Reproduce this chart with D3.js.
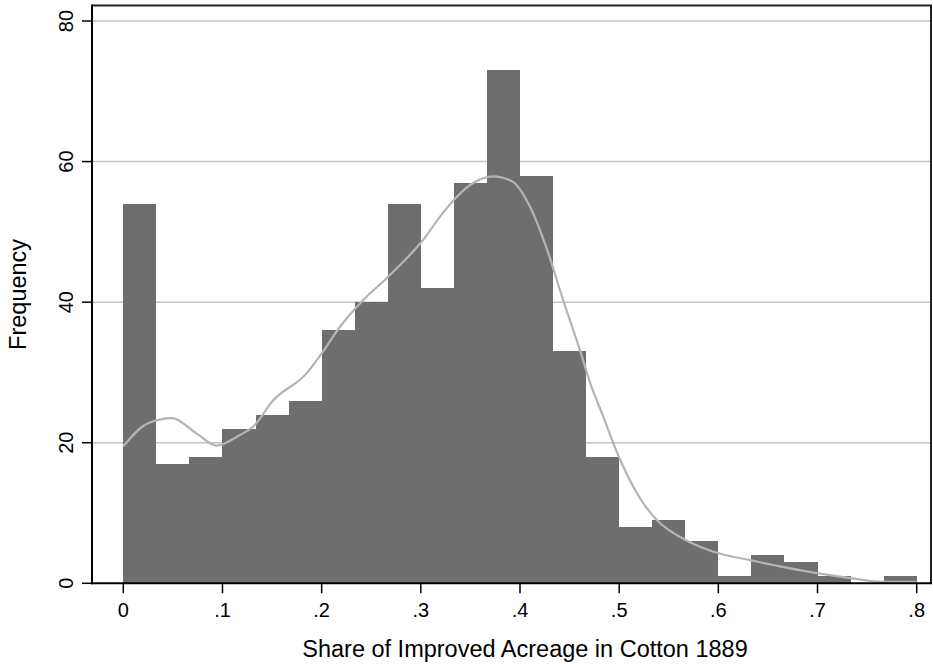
<!DOCTYPE html>
<html>
<head>
<meta charset="utf-8">
<script src="https://cdn.jsdelivr.net/npm/d3@7"></script>
<style>
  html, body { margin: 0; padding: 0; background: #fff; }
  svg { display: block; font-family: "Liberation Sans", Arial, Helvetica, sans-serif; }
</style>
</head>
<body>
<svg id="chart"></svg>
<script>
// Histogram: share of improved acreage in cotton, 1889, with density overlay

const width = 933, height = 664;

// bin edges (width 1/30)
const binEdges = [0, 0.0333, 0.0667, 0.1, 0.1333, 0.1667, 0.2, 0.2333, 0.2667, 0.3,
  0.3333, 0.3667, 0.4, 0.4333, 0.4667, 0.5, 0.5333, 0.5667, 0.6, 0.6333,
  0.6667, 0.7, 0.7333, 0.7667, 0.8];
const frequency = [54, 17, 18, 22, 24, 26, 36, 40, 54, 42, 57, 73,
  58, 33, 18, 8, 9, 6, 1, 4, 3, 1, 0, 1];

// density curve (scaled to frequency)
const densX = [0, 0.024, 0.049, 0.074, 0.094, 0.1176, 0.131, 0.151, 0.185, 0.2,
  0.2185, 0.242, 0.2655, 0.282, 0.302, 0.319, 0.333, 0.35, 0.373, 0.393,
  0.41, 0.427, 0.4435, 0.4604, 0.471, 0.484, 0.497, 0.521, 0.538, 0.568,
  0.602, 0.632, 0.666, 0.701, 0.735, 0.765, 0.8];
const densY = [19.5, 22.7, 23.5, 21.3, 19.6, 21.1, 22.3, 26.0, 29.9, 32.7,
  36.5, 40.3, 43.4, 45.7, 48.8, 52.1, 54.5, 56.7, 57.9, 57.1,
  53.6, 47.6, 40.3, 33.2, 28.4, 23.7, 18.9, 12.1, 9.0, 6.1,
  4.2, 3.3, 2.3, 1.4, 0.7, 0.2, 0.2];

const xTicks = [0, 0.1, 0.2, 0.3, 0.4, 0.5, 0.6, 0.7, 0.8];
const xTickLabels = ["0", ".1", ".2", ".3", ".4", ".5", ".6", ".7", ".8"];
const yTicks = [0, 20, 40, 60, 80];

const plot = { left: 92, right: 931, top: 5.5, bottom: 583.3 };

const svg = d3.select("#chart")
  .attr("width", width)
  .attr("height", height)
  .attr("viewBox", `0 0 ${width} ${height}`);

const x = d3.scaleLinear().domain([0, 0.8]).range([123.3, 916.7]);
const y = d3.scaleLinear().domain([0, 80]).range([plot.bottom, 21]);

// grid lines
svg.append("g")
  .selectAll("line")
  .data(yTicks.filter(d => d > 0))
  .join("line")
  .attr("x1", plot.left)
  .attr("x2", plot.right)
  .attr("y1", d => y(d))
  .attr("y2", d => y(d))
  .attr("stroke", "#c4c4c4")
  .attr("stroke-width", 1.5);

// bars
svg.append("g")
  .selectAll("rect")
  .data(frequency)
  .join("rect")
  .attr("x", (d, i) => x(binEdges[i]))
  .attr("width", (d, i) => x(binEdges[i + 1]) - x(binEdges[i]))
  .attr("y", d => y(d))
  .attr("height", d => y(0) - y(d))
  .attr("fill", "#6e6e6e")
  .attr("shape-rendering", "crispEdges");

// density line
const line = d3.line()
  .x((d, i) => x(densX[i]))
  .y(d => y(d))
  .curve(d3.curveMonotoneX);

svg.append("path")
  .datum(densY)
  .attr("d", line)
  .attr("fill", "none")
  .attr("stroke", "#b4b4b4")
  .attr("stroke-width", 2.2);

// frame (top and right)
svg.append("path")
  .attr("d", `M${plot.left},${plot.top}H${plot.right}V${plot.bottom}`)
  .attr("fill", "none")
  .attr("stroke", "#222")
  .attr("stroke-width", 2);

// x axis
const xAxis = svg.append("g")
  .attr("transform", `translate(0,${plot.bottom})`);
xAxis.append("line")
  .attr("x1", plot.left - 1)
  .attr("x2", plot.right + 1)
  .attr("stroke", "#000")
  .attr("stroke-width", 2);
const xt = xAxis.selectAll("g.tick")
  .data(xTicks)
  .join("g")
  .attr("class", "tick")
  .attr("transform", d => `translate(${x(d)},0)`);
xt.append("line")
  .attr("y2", 10)
  .attr("stroke", "#000")
  .attr("stroke-width", 1.5);
xt.append("text")
  .attr("y", 33.5)
  .attr("text-anchor", "middle")
  .attr("font-size", 20)
  .attr("fill", "#000")
  .text((d, i) => xTickLabels[i]);

// y axis
const yAxis = svg.append("g")
  .attr("transform", `translate(${plot.left},0)`);
yAxis.append("line")
  .attr("y1", plot.top - 1)
  .attr("y2", plot.bottom + 1)
  .attr("stroke", "#000")
  .attr("stroke-width", 2);
const yt = yAxis.selectAll("g.tick")
  .data(yTicks)
  .join("g")
  .attr("class", "tick")
  .attr("transform", d => `translate(0,${y(d)})`);
yt.append("line")
  .attr("x2", -10)
  .attr("stroke", "#000")
  .attr("stroke-width", 1.5);
yt.append("text")
  .attr("transform", "translate(-19,0) rotate(-90)")
  .attr("text-anchor", "middle")
  .attr("font-size", 20)
  .attr("fill", "#000")
  .text(d => d);

// axis titles
svg.append("text")
  .attr("x", 525)
  .attr("y", 656.5)
  .attr("text-anchor", "middle")
  .attr("font-size", 23.5)
  .attr("fill", "#000")
  .text("Share of Improved Acreage in Cotton 1889");

svg.append("text")
  .attr("transform", `translate(26,${(plot.top + plot.bottom) / 2}) rotate(-90)`)
  .attr("text-anchor", "middle")
  .attr("font-size", 23.5)
  .attr("fill", "#000")
  .text("Frequency");
</script>
</body>
</html>
